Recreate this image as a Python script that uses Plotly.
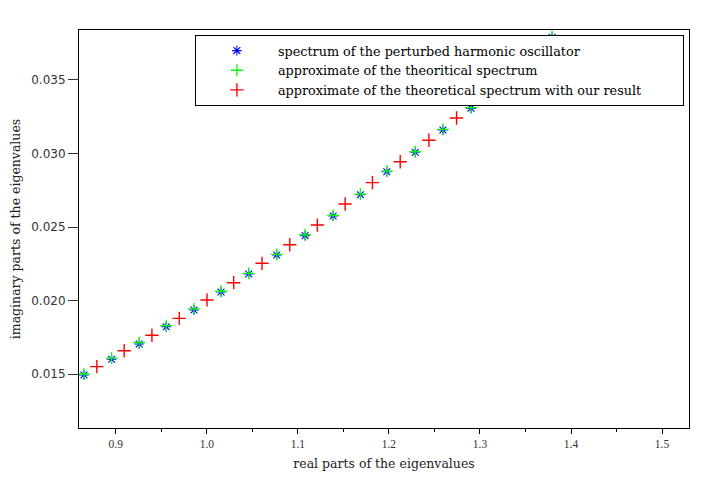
import plotly.graph_objects as go

# perturbed harmonic oscillator spectrum (blue stars)
blue_re = [0.865, 0.8954, 0.9257, 0.9554, 0.9859, 1.0156, 1.046, 1.0768, 1.1079,
           1.1387, 1.1687, 1.1977, 1.2289, 1.2593, 1.2901, 1.3198, 1.3495, 1.3792]
blue_im = [0.01495, 0.01602, 0.01706, 0.01823, 0.01937, 0.02059, 0.02181, 0.02310, 0.02442,
           0.02575, 0.02720, 0.02876, 0.03008, 0.03160, 0.03307, 0.03460, 0.03620, 0.03790]

# approximate of the theoritical spectrum (green crosses)
green_re = [0.865, 0.8954, 0.9257, 0.9554, 0.9859, 1.0156, 1.046, 1.0768, 1.1079,
            1.1387, 1.1687, 1.1977, 1.2289, 1.2593, 1.2901, 1.3198, 1.3495, 1.3792]
green_im = [0.01502, 0.01610, 0.01716, 0.01830, 0.01944, 0.02064, 0.02186, 0.02314, 0.02448,
            0.02580, 0.02724, 0.02880, 0.03012, 0.03164, 0.03311, 0.03464, 0.03624, 0.03795]

# approximate of the theoretical spectrum with our result (red crosses)
red_re = [0.8792, 0.9092, 0.9397, 0.9697, 1.0002, 1.0295, 1.0606, 1.0911, 1.1214,
          1.1519, 1.1819, 1.2124, 1.2439, 1.2743, 1.3047, 1.3345, 1.3645]
red_im = [0.01552, 0.01660, 0.01765, 0.01880, 0.02005, 0.02122, 0.02254, 0.02380, 0.02514,
          0.02657, 0.02802, 0.02944, 0.03090, 0.03241, 0.03400, 0.03540, 0.03700]

x_ticks = [0.9, 1.0, 1.1, 1.2, 1.3, 1.4, 1.5]
x_ticktext = ["0.9", "1.0", "1.1", "1.2", "1.3", "1.4", "1.5"]
y_ticks = [0.015, 0.020, 0.025, 0.030, 0.035]
y_ticktext = ["0.015", "0.020", "0.025", "0.030", "0.035"]

names = ["spectrum of the perturbed harmonic oscillator",
         "approximate of the theoritical spectrum",
         "approximate of the theoretical spectrum with our result"]

serif = "DejaVu Serif"

fig = go.Figure()
fig.add_trace(go.Scatter(
    x=blue_re, y=blue_im, mode="markers", name=names[0],
    marker=dict(symbol="asterisk-open", size=8, color="#0000ff",
                line=dict(color="#0000ff", width=1.1)),
))
fig.add_trace(go.Scatter(
    x=green_re, y=green_im, mode="markers", name=names[1],
    marker=dict(symbol="cross-thin-open", size=8.5, color="#00ff00",
                line=dict(color="#00ff00", width=1.3)),
))
fig.add_trace(go.Scatter(
    x=red_re, y=red_im, mode="markers", name=names[2],
    marker=dict(symbol="cross-thin-open", size=9.5, color="#ff0000",
                line=dict(color="#ff0000", width=1.4)),
))

fig.update_layout(
    width=708, height=487,
    margin=dict(l=71, r=27, t=22, b=67, autoexpand=False),
    paper_bgcolor="white", plot_bgcolor="white",
    showlegend=True,
    legend=dict(
        x=0.19, y=0.988, xanchor="left", yanchor="top",
        orientation="h", entrywidthmode="fraction", entrywidth=0.79,
        bgcolor="white", bordercolor="black", borderwidth=1,
        font=dict(family=serif, size=12.8, color="black"),
        itemwidth=72, tracegroupgap=0,
    ),
    xaxis=dict(
        range=[0.8596, 1.5296], automargin=False,
        tickvals=x_ticks, ticktext=x_ticktext,
        ticks="outside", ticklen=5, tickcolor="black",
        minor=dict(dtick=0.05, tick0=0.85, ticks="outside", ticklen=3, tickcolor="black"),
        showgrid=False, zeroline=False,
        showline=True, linecolor="black", linewidth=1, mirror=True,
        tickfont=dict(family="Liberation Serif", size=11.5, color="#333333"),
        title=dict(text="real parts of the eigenvalues",
                   font=dict(family=serif, size=12.5, color="#222222"), standoff=10),
    ),
    yaxis=dict(
        range=[0.01135, 0.03839], automargin=False,
        tickvals=y_ticks, ticktext=y_ticktext,
        ticks="outside", ticklen=10, tickcolor="#333333",
        showgrid=False, zeroline=False,
        showline=True, linecolor="black", linewidth=1, mirror=True,
        tickfont=dict(family="DejaVu Sans", size=12, color="#333333"),
        title=dict(text="imaginary parts of the eigenvalues",
                   font=dict(family=serif, size=12.5, color="#222222"), standoff=12),
    ),
)

fig.write_html("out.html")
